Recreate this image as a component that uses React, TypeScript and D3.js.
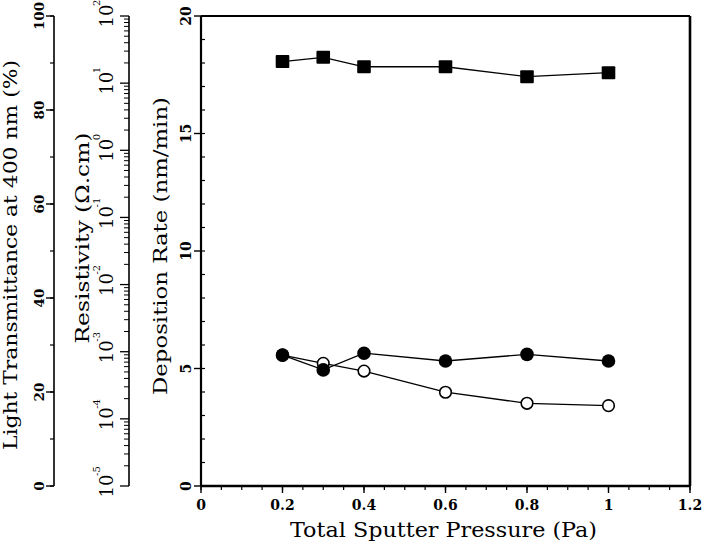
import React from "react";
import * as d3 from "d3";

const pressure = [0.2, 0.3, 0.4, 0.6, 0.8, 1.0];
const squareSeries = [18.06, 18.24, 17.84, 17.84, 17.42, 17.59];
const filledCircleSeries = [5.57, 4.94, 5.65, 5.32, 5.6, 5.32];
const openCircleSeries = [5.57, 5.22, 4.89, 3.99, 3.52, 3.42];

const xTicks = [0, 0.2, 0.4, 0.6, 0.8, 1, 1.2];
const xTickLabels = ["0", "0.2", "0.4", "0.6", "0.8", "1", "1.2"];
const depTicks = [0, 5, 10, 15, 20];
const transTicks = [0, 20, 40, 60, 80, 100];
const resExponents = [-5, -4, -3, -2, -1, 0, 1, 2];

const W = 702;
const H = 543;
const top = 16;
const bottom = 486;
const left = 201;
const right = 690;
const transAxisX = 54;
const resAxisX = 129;

const serif = "'DejaVu Serif', 'Liberation Serif', serif";
const tickFont = "'DejaVu Serif', 'Liberation Serif', serif";

export default function App() {
  const x = d3.scaleLinear().domain([0, 1.2]).range([left, right]);
  const y = d3.scaleLinear().domain([0, 20]).range([bottom, top]);
  const yT = d3.scaleLinear().domain([0, 100]).range([bottom, top]);
  const yR = d3.scaleLog().domain([1e-5, 1e2]).range([bottom, top]);

  const line = d3
    .line<[number, number]>()
    .x((d) => x(d[0]))
    .y((d) => y(d[1]));

  const zip = (vals: number[]) => pressure.map((p, i) => [p, vals[i]] as [number, number]);

  const xMinor = d3.range(0, 1.2001, 0.05);
  const yMinor = d3.range(0, 20.001, 1);
  const tMinor = d3.range(0, 100.001, 10);
  const rMinor: number[] = [];
  for (let e = -5; e < 2; e++) {
    for (let m = 2; m <= 9; m++) rMinor.push(m * Math.pow(10, e));
  }

  return (
    <svg
      width={W}
      height={H}
      viewBox={`0 0 ${W} ${H}`}
      style={{ position: "absolute", left: 0, top: 0, background: "#fff" }}
    >
      <rect x={0} y={0} width={W} height={H} fill="#fff" />

      {/* Transmittance axis */}
      <line x1={transAxisX} x2={transAxisX} y1={top} y2={bottom} stroke="#000" strokeWidth={1.6} />
      {tMinor.map((t) => (
        <line key={"tm" + t} x1={transAxisX - 4} x2={transAxisX} y1={yT(t)} y2={yT(t)} stroke="#000" strokeWidth={1.2} />
      ))}
      {transTicks.map((t) => (
        <g key={"tt" + t}>
          <line x1={transAxisX - 8} x2={transAxisX} y1={yT(t)} y2={yT(t)} stroke="#000" strokeWidth={1.4} />
          <text
            transform={`translate(${44},${yT(t)}) rotate(-90)`}
            textAnchor="middle"
            fontFamily={tickFont}
            fontWeight="bold"
            fontSize={13.5}
          >
            {t}
          </text>
        </g>
      ))}
      <text
        transform={`translate(17,255) rotate(-90)`}
        textAnchor="middle"
        fontFamily={serif}
        fontSize={19}
        textLength={390}
        lengthAdjust="spacingAndGlyphs"
      >
        Light Transmittance at 400 nm (%)
      </text>

      {/* Resistivity axis */}
      <line x1={resAxisX} x2={resAxisX} y1={top} y2={bottom} stroke="#000" strokeWidth={1.6} />
      {rMinor.map((r, i) => (
        <line key={"rm" + i} x1={resAxisX - 5} x2={resAxisX} y1={yR(r)} y2={yR(r)} stroke="#000" strokeWidth={1} />
      ))}
      {resExponents.map((e) => {
        const yy = yR(Math.pow(10, e));
        return (
          <g key={"re" + e}>
            <line x1={resAxisX - 9} x2={resAxisX} y1={yy} y2={yy} stroke="#000" strokeWidth={1.3} />
            <g transform={`translate(113,${yy}) rotate(-90)`}>
              <text textAnchor="middle" fontFamily={tickFont} fontSize={18}>
                10
              </text>
              <text x={10} y={-13} textAnchor="start" fontFamily={tickFont} fontSize={10}>
                {String(e)}
              </text>
            </g>
          </g>
        );
      })}
      <text
        transform={`translate(89,238) rotate(-90)`}
        textAnchor="middle"
        fontFamily={serif}
        fontSize={19}
        textLength={211}
        lengthAdjust="spacingAndGlyphs"
      >
        Resistivity (Ω.cm)
      </text>

      {/* Deposition rate title */}
      <text
        transform={`translate(167,246) rotate(-90)`}
        textAnchor="middle"
        fontFamily={serif}
        fontSize={19}
        textLength={298}
        lengthAdjust="spacingAndGlyphs"
      >
        Deposition Rate (nm/min)
      </text>

      {/* Main plot frame */}
      <line x1={left} x2={right} y1={top} y2={top} stroke="#000" strokeWidth={1.8} />
      <line x1={right} x2={right} y1={top} y2={bottom} stroke="#000" strokeWidth={2.6} />
      <line x1={left} x2={left} y1={top} y2={bottom} stroke="#000" strokeWidth={2.2} />
      <line x1={left} x2={right} y1={bottom} y2={bottom} stroke="#000" strokeWidth={2.6} />

      {yMinor.map((v) => (
        <line key={"ym" + v} x1={left} x2={left + 4} y1={y(v)} y2={y(v)} stroke="#000" strokeWidth={1.2} />
      ))}
      {depTicks.map((v) => (
        <g key={"yt" + v}>
          <line x1={left - 7} x2={left} y1={y(v)} y2={y(v)} stroke="#000" strokeWidth={1.4} />
          <text
            transform={`translate(191,${y(v)}) rotate(-90)`}
            textAnchor="middle"
            fontFamily={tickFont}
            fontWeight="bold"
            fontSize={14}
          >
            {v}
          </text>
        </g>
      ))}

      {xMinor.map((v, i) => (
        <line key={"xm" + i} x1={x(v)} x2={x(v)} y1={bottom} y2={bottom + 4} stroke="#000" strokeWidth={1.2} />
      ))}
      {xTicks.map((v, i) => (
        <g key={"xt" + i}>
          <line x1={x(v)} x2={x(v)} y1={bottom} y2={bottom + 7} stroke="#000" strokeWidth={1.4} />
          <text
            x={x(v)}
            y={510}
            textAnchor="middle"
            fontFamily={tickFont}
            fontWeight="bold"
            fontSize={14}
          >
            {xTickLabels[i]}
          </text>
        </g>
      ))}
      <text
        x={443.5}
        y={537}
        textAnchor="middle"
        fontFamily={serif}
        fontSize={20}
        textLength={307}
        lengthAdjust="spacingAndGlyphs"
      >
        Total Sputter Pressure (Pa)
      </text>

      {/* Series lines */}
      <path d={line(zip(openCircleSeries)) || ""} fill="none" stroke="#000" strokeWidth={1.3} />
      <path d={line(zip(filledCircleSeries)) || ""} fill="none" stroke="#000" strokeWidth={1.3} />
      <path d={line(zip(squareSeries)) || ""} fill="none" stroke="#000" strokeWidth={1.3} />

      {/* Markers */}
      {zip(openCircleSeries).map((d, i) => (
        <circle key={"oc" + i} cx={x(d[0])} cy={y(d[1])} r={5.8} fill="#fff" stroke="#000" strokeWidth={1.6} />
      ))}
      {zip(filledCircleSeries).map((d, i) => (
        <circle key={"fc" + i} cx={x(d[0])} cy={y(d[1])} r={6.8} fill="#000" />
      ))}
      {zip(squareSeries).map((d, i) => (
        <rect key={"sq" + i} x={x(d[0]) - 6.8} y={y(d[1]) - 6.5} width={13.6} height={13} fill="#000" rx={1} />
      ))}
    </svg>
  );
}
